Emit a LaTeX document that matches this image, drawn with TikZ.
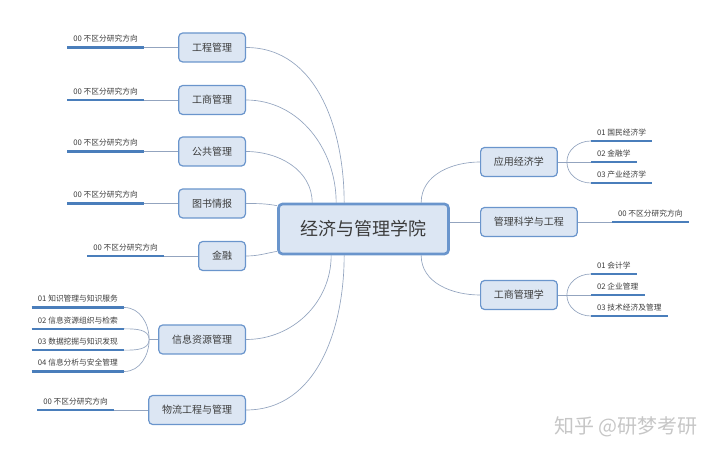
\documentclass[tikz,border=0pt]{standalone}
\usepackage{fontspec}
\newfontfamily\cjk{Noto Sans CJK SC}
\usetikzlibrary{positioning}

\definecolor{boxblue}{HTML}{6A95CC}
\definecolor{boxfill}{HTML}{DCE6F3}
\definecolor{lineblue}{HTML}{4A7EBB}
\definecolor{linkgray}{HTML}{93A4BF}
\definecolor{txt}{HTML}{3C3C3C}

\tikzset{
  topic/.style={draw=boxblue, fill=boxfill, rounded corners=3pt, line width=0.9pt,
    font=\cjk\fontsize{7.5pt}{9pt}\selectfont, text=txt, inner xsep=10pt, minimum height=21.75pt},
  core/.style={topic, line width=2pt, font=\cjk\fontsize{13.5pt}{16pt}\selectfont,
    inner xsep=16.5pt, minimum height=37.5pt},
  leaf/.style={font=\cjk\fontsize{5.8pt}{7pt}\selectfont, text=txt, inner xsep=4.5pt,
    inner ysep=3pt, text height=5pt, text depth=1pt},
  uline/.style={draw=lineblue, line width=1.6pt},
  link/.style={draw=linkgray, line width=0.5pt}
}

\begin{document}
\begin{tikzpicture}[x=0.75pt,y=0.75pt]
	\useasboundingbox (0,0) rectangle (720,456);
	% core and branches
	\node[core] (c) at (363.5,227) {经济与管理学院};
	\node[topic,anchor=east] (g_1) at (246,408.5) {工程管理};
	\node[topic,anchor=east] (g_2) at (246,356) {工商管理};
	\node[topic,anchor=east] (g_3) at (246,304.5) {公共管理};
	\node[topic,anchor=east] (g_4) at (246,252.5) {图书情报};
	\node[topic,anchor=east] (g_5) at (246,200) {金融};
	\node[topic,anchor=east] (g_6) at (246,116.5) {信息资源管理};
	\node[topic,anchor=east] (g_7) at (246,46) {物流工程与管理};
	\node[topic,anchor=west] (r_1) at (480,294) {应用经济学};
	\node[topic,anchor=west] (r_2) at (480,234) {管理科学与工程};
	\node[topic,anchor=west] (r_3) at (480,161) {工商管理学};
	% leaves
	\node[leaf,left=25.5pt of g_1.west,anchor=south east] (g_1a) {00 不区分研究方向};
	\node[leaf,left=25.5pt of g_2.west,anchor=south east] (g_2a) {00 不区分研究方向};
	\node[leaf,left=25.5pt of g_3.west,anchor=south east] (g_3a) {00 不区分研究方向};
	\node[leaf,left=25.5pt of g_4.west,anchor=south east] (g_4a) {00 不区分研究方向};
	\node[leaf,left=25.5pt of g_5.west,anchor=south east] (g_5a) {00 不区分研究方向};
	\node[leaf,left=25.5pt of g_6.west,anchor=south east,yshift=24pt] (g_6a) {01 知识管理与知识服务};
	\node[leaf,left=25.5pt of g_6.west,anchor=south east,yshift=8pt] (g_6b) {02 信息资源组织与检索};
	\node[leaf,left=25.5pt of g_6.west,anchor=south east,yshift=-8pt] (g_6c) {03 数据挖掘与知识发现};
	\node[leaf,left=25.5pt of g_6.west,anchor=south east,yshift=-24pt] (g_6d) {04 信息分析与安全管理};
	\node[leaf,left=25.5pt of g_7.west,anchor=south east] (g_7a) {00 不区分研究方向};
	\node[leaf,right=24.75pt of r_1.east,anchor=south west,yshift=15.75pt] (r_1a) {01 国民经济学};
	\node[leaf,right=24.75pt of r_1.east,anchor=south west] (r_1b) {02 金融学};
	\node[leaf,right=24.75pt of r_1.east,anchor=south west,yshift=-15.75pt] (r_1c) {03 产业经济学};
	\node[leaf,right=25.5pt of r_2.east,anchor=south west] (r_2a) {00 不区分研究方向};
	\node[leaf,right=24.75pt of r_3.east,anchor=south west,yshift=15.75pt] (r_3a) {01 会计学};
	\node[leaf,right=24.75pt of r_3.east,anchor=south west] (r_3b) {02 企业管理};
	\node[leaf,right=24.75pt of r_3.east,anchor=south west,yshift=-15.75pt] (r_3c) {03 技术经济及管理};
	\foreach \n in {g_1a,g_2a,g_3a,g_4a,g_5a,g_6a,g_6b,g_6c,g_6d,g_7a,r_1a,r_1b,r_1c,r_2a,r_3a,r_3b,r_3c}
		\draw[uline] (\n.south west) -- (\n.south east);
	% points on the core box and branch points
	\coordinate (t_1) at ([xshift=50.25pt]c.north west);
	\coordinate (t_2) at ([xshift=44.25pt]c.north west);
	\coordinate (t_3) at ([xshift=26.25pt]c.north west);
	\coordinate (t_4) at ([yshift=-2.25pt]c.north west);
	\coordinate (t_5) at ([yshift=3pt]c.south west);
	\coordinate (t_6) at ([xshift=40.5pt]c.south west);
	\coordinate (t_7) at ([xshift=50.25pt]c.south west);
	\coordinate (t_8) at ([xshift=108pt]c.north west);
	\coordinate (t_9) at ([xshift=108pt]c.south west);
	\coordinate[left=6.75pt of g_6.west] (b_6);
	\coordinate[right=6.75pt of r_1.east] (b_r1);
	\coordinate[right=6.75pt of r_3.east] (b_r3);
	\path[link]
		(g_1.east) edge [out=0,in=90] (t_1)
		(g_2.east) edge [out=0,in=90] (t_2)
		(g_3.east) edge [out=0,in=90] (t_3)
		(g_4.east) edge [out=0,in=170] (t_4)
		(g_5.east) edge [out=0,in=190] (t_5)
		(g_6.east) edge [out=0,in=-90] (t_6)
		(g_7.east) edge [out=0,in=-90] (t_7)
		(t_8) edge [out=90,in=180] (r_1.west)
		(t_9) edge [out=-90,in=180] (r_3.west)
		(r_2.west -| c.east) edge (r_2.west)
		(g_1a.south east) edge (g_1.west)
		(g_2a.south east) edge (g_2.west)
		(g_3a.south east) edge (g_3.west)
		(g_4a.south east) edge (g_4.west)
		(g_5a.south east) edge (g_5.west)
		(g_7a.south east) edge (g_7.west)
		(r_2.east) edge (r_2a.south west)
		(g_6.west) edge (b_6)
		(b_6) edge [out=90,in=0] (g_6a.south east)
		(b_6) edge [out=90,in=0] (g_6b.south east)
		(b_6) edge [out=-90,in=0] (g_6c.south east)
		(b_6) edge [out=-90,in=0] (g_6d.south east)
		(r_1.east) edge (r_1b.south west)
		(b_r1) edge [out=90,in=180] (r_1a.south west)
		(b_r1) edge [out=-90,in=180] (r_1c.south west)
		(r_3.east) edge (r_3b.south west)
		(b_r3) edge [out=90,in=180] (r_3a.south west)
		(b_r3) edge [out=-90,in=180] (r_3c.south west);
	% watermark
	\node[font=\cjk\fontsize{15pt}{18pt}\selectfont, text=gray!45] (wm) at (626,29) {知乎 @研梦考研};
\end{tikzpicture}
\end{document}
